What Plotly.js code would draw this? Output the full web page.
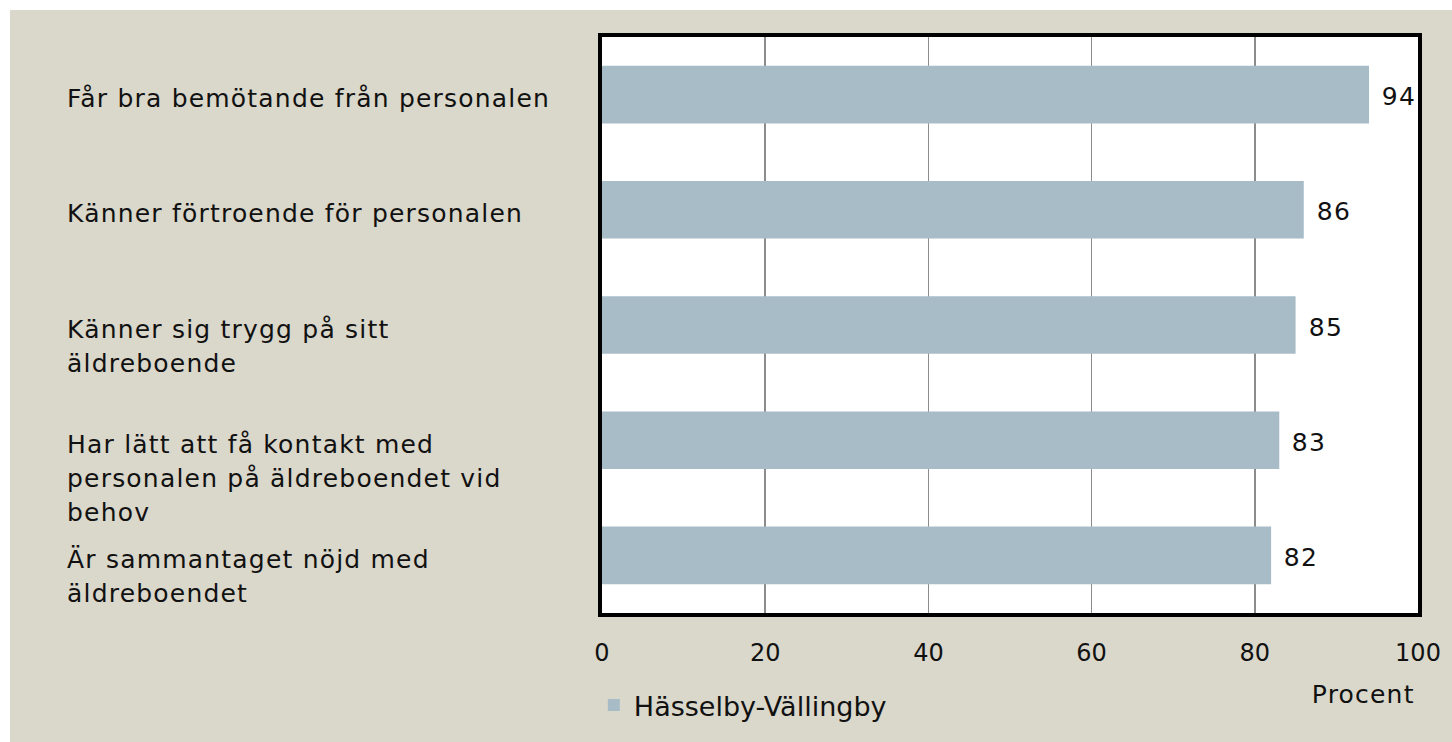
<!DOCTYPE html>
<html><head><meta charset="utf-8">
<script src="https://cdn.plot.ly/plotly-3.0.1.min.js"></script>
<style>html,body{margin:0;padding:0;background:#fff;}#c{position:absolute;left:10px;top:10px;width:1442px;height:732px;}
#c .annotation-text{letter-spacing:1.2px;}
</style>
</head><body><div id="c"></div>
<script>
const categories = [
  "Får bra bemötande från personalen",
  "Känner förtroende för personalen",
  "Känner sig trygg på sitt<br>äldreboende",
  "Har lätt att få kontakt med<br>personalen på äldreboendet vid<br>behov",
  "Är sammantaget nöjd med<br>äldreboendet"
];
const values = [94, 86, 85, 83, 82];
const seriesName = "Hässelby-Vällingby";
const xTicks = [0, 20, 40, 60, 80, 100];
const axisTitle = "Procent";

const FONT = "DejaVu Sans";
const FS = 25;
const annotations = [];
categories.forEach((c, ci) => {
  c.split("<br>").forEach((line, li) => {
    annotations.push({
      text: line, xref: "paper", x: -0.658, xanchor: "left", align: "left",
      yref: "y", y: c, yanchor: "middle", yshift: -(4 + 34 * li),
      showarrow: false, font: {family: FONT, size: FS, color: "#111"}
    });
  });
});
values.forEach((v, i) => {
  annotations.push({
    text: String(v), xref: "x", x: v, xanchor: "left", xshift: 12,
    yref: "y", y: categories[i], yanchor: "middle", yshift: -2,
    showarrow: false, font: {family: FONT, size: FS, color: "#111"}
  });
});
annotations.push({
  text: axisTitle, xref: "paper", x: 0.994, xanchor: "right",
  yref: "paper", y: -0.142, yanchor: "middle", showarrow: false,
  font: {family: FONT, size: FS, color: "#111"}
});

const data = [{
  type: "bar", orientation: "h", x: values, y: categories, name: seriesName,
  marker: {color: "#A7BCC7"}, hoverinfo: "none", showlegend: true
}];
const layout = {
  width: 1442, height: 732,
  margin: {l: 592, r: 34, t: 27, b: 87},
  paper_bgcolor: "#DAD7CB", plot_bgcolor: "#FFFFFF",
  font: {family: FONT, size: FS, color: "#111"},
  bargap: 0.5,
  xaxis: {range: [0, 100], tickvals: xTicks, ticktext: xTicks.map(String),
    showgrid: true, gridcolor: "#8C8C8C", gridwidth: 1.5,
    showline: true, mirror: true, linecolor: "#000", linewidth: 4,
    zeroline: false, ticks: "", ticklabelstandoff: 15, fixedrange: true,
    tickfont: {family: FONT, size: 24, color: "#111"}},
  yaxis: {autorange: "reversed", showticklabels: false, showgrid: false,
    showline: true, mirror: true, linecolor: "#000", linewidth: 4,
    ticks: "", fixedrange: true},
  showlegend: true,
  legend: {orientation: "h", x: -0.01, xanchor: "left", y: -0.118, yanchor: "top",
    itemwidth: 30, bgcolor: "rgba(0,0,0,0)", font: {family: FONT, size: 27, color: "#111"}},
  annotations: annotations
};
Plotly.newPlot("c", data, layout, {displayModeBar: false, staticPlot: true});
</script></body></html>
